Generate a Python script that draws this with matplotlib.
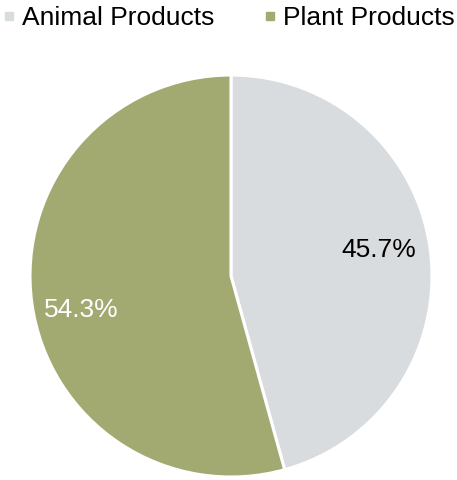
import matplotlib.pyplot as plt
from matplotlib.lines import Line2D

plt.rcParams['font.family'] = ['Liberation Sans', 'DejaVu Sans']

categories = ["Animal Products", "Plant Products"]
shares = [45.7, 54.3]
colors = ["#D9DCDF", "#A3AA71"]
label_colors = ["black", "white"]

fig = plt.figure(figsize=(4.57, 4.80), dpi=100)
ax = fig.add_axes([28 / 457, 1 / 480, 406 / 457, 406 / 480])

wedges, texts, autotexts = ax.pie(
    shares, colors=colors, startangle=90, counterclock=False,
    autopct="%.1f%%", pctdistance=0.75,
    wedgeprops=dict(edgecolor="white", linewidth=2.2),
    textprops=dict(fontsize=19),
)
# nudge the percentage labels a little
nudges = [(-0.01, 0.03), (0.0, -0.07)]
for t, c, (dx, dy) in zip(autotexts, label_colors, nudges):
    t.set_color(c)
    x, y = t.get_position()
    t.set_position((x + dx, y + dy))
ax.set_xlim(-1.01, 1.01)
ax.set_ylim(-1.01, 1.01)
ax.set_aspect("equal")

handles = [Line2D([], [], marker="s", linestyle="none", markersize=6,
                  markerfacecolor=c, markeredgecolor=c) for c in colors]
fig.legend(handles, categories, loc="upper left", bbox_to_anchor=(-0.012, 1.01),
           ncol=2, frameon=False, fontsize=19, handlelength=0.3,
           handletextpad=0.35, columnspacing=1.95, borderaxespad=0)

fig.savefig("out.png", dpi=100)
